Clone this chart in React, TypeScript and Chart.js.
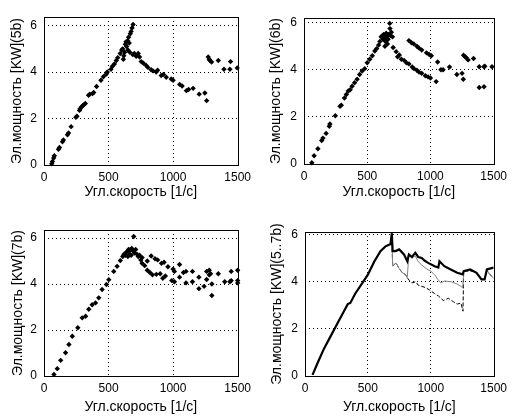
import React, { useEffect, useRef } from "react";
import { Chart, registerables } from "chart.js";

Chart.register(...registerables);

// ---------- text ----------
const xTitle = "Угл.скорость [1/с]";
const yTitle5 = "Эл.мощность [KW](5b)";
const yTitle6 = "Эл.мощность [KW](6b)";
const yTitle7 = "Эл.мощность [KW](7b)";
const yTitleAll = "Эл.мощность [KW](5..7b)";

// ---------- ticks ----------
const xTickValues = [0, 500, 1000, 1500];
const yTickValues = [0, 2, 4, 6];

// ---------- panel 1 : 5b ----------
const s5X = [
  60, 65, 75, 80, 112, 120, 143, 150, 182, 190, 210, 247, 255, 275, 280, 290, 300, 310, 320, 345, 355, 376, 385,
  407, 441, 460, 480, 490, 519, 530, 545, 560, 571, 590, 602, 610,
  615, 618, 625, 630, 635, 640, 648, 655, 660, 668, 675, 682, 690,
  650, 665, 688, 700, 714, 730,
  740, 753, 770, 792, 805, 830, 845, 869, 880, 908, 925, 947, 986, 1000, 1051, 1070, 1103, 1120, 1155, 1202, 1246, 1260,
  1272, 1280, 1285, 1298, 1350, 1394, 1440, 1445, 1497,
];
const s5Y = [
  0.05, 0.15, 0.3, 0.4, 0.68, 0.75, 1.0, 1.08, 1.3, 1.38, 1.65, 2.05, 2.1, 2.35, 2.42, 2.5, 2.55, 2.6, 2.65, 3.0, 3.05, 3.07, 3.12,
  3.38, 3.65, 3.8, 3.9, 4.0, 4.12, 4.25, 4.35, 4.5, 4.62, 4.8, 4.95, 5.0,
  4.55, 4.7, 4.85, 5.2, 5.3, 5.1, 5.35, 5.5, 5.25, 5.65, 5.75, 5.9, 6.05,
  4.95, 4.85, 4.75, 4.8, 4.68, 4.8,
  4.65, 4.45, 4.38, 4.28, 4.2, 4.1, 4.05, 4.0, 4.08, 3.85, 3.9, 3.78, 3.7, 3.65, 3.47, 3.4, 3.2, 3.25, 3.3, 3.05, 3.1, 2.77,
  4.65, 4.55, 4.5, 4.43, 4.5, 4.12, 4.12, 4.45, 4.18,
];

// ---------- panel 2 : 6b ----------
const s6X = [
  62, 80, 110, 140, 150, 175, 200, 205, 248, 285, 295, 320, 335, 350, 365, 380, 400, 420, 440, 460, 480, 500, 520, 540, 560, 575, 590, 600,
  610, 620, 625, 630, 640, 645, 650, 655, 660, 665, 670, 678, 680, 685, 691, 700, 640, 660,
  705, 729, 740, 754, 770, 792, 810, 830, 856, 870, 893, 910, 931, 960, 981, 1000, 1045,
  830, 850, 868, 893, 910, 931, 969, 990, 1007, 1057, 1083, 1100, 1151, 1209, 1250, 1260,
  1262, 1275, 1285, 1298, 1341, 1386, 1424, 1430, 1487, 1386, 1424,
];
const s6Y = [
  0.05, 0.35, 0.65, 1.0, 1.1, 1.3, 1.6, 1.7, 2.05, 2.45, 2.5, 2.8, 2.95, 3.1, 3.15, 3.3, 3.45, 3.6, 3.8, 3.95, 4.05, 4.3, 4.45, 4.6, 4.8, 4.9, 5.05, 5.2,
  5.4, 5.45, 5.3, 5.5, 5.4, 5.2, 5.55, 5.35, 5.45, 5.3, 5.5, 5.97, 5.75, 5.45, 5.6, 5.4, 5.0, 5.1,
  4.95, 4.77, 4.55, 4.63, 4.45, 4.4, 4.3, 4.25, 4.12, 4.05, 3.98, 3.9, 3.85, 3.75, 3.7, 3.65, 3.5,
  5.24, 5.15, 5.1, 5.0, 4.92, 4.84, 4.72, 4.65, 4.6, 4.33, 4.0, 4.0, 4.12, 3.8, 3.85, 3.6,
  4.62, 4.55, 4.5, 4.42, 4.48, 4.13, 4.13, 4.15, 4.13, 3.25, 3.28,
];

// ---------- panel 3 : 7b ----------
const s7X = [
  77, 103, 129, 167, 193, 219, 262, 296, 322, 347, 373, 399, 424, 450, 484, 502, 540, 566, 591,
  610, 620, 630, 640, 650, 655, 660, 665, 670, 675, 680, 690, 695, 700, 710, 720, 730, 740, 750,
  760, 800, 830, 860, 880, 910, 930, 960, 1000, 1010, 1050, 1080, 1100, 1150, 1200, 1260, 1280, 1290, 1350, 1450, 1500,
  760, 780, 800, 820, 840, 870, 900, 920, 940, 990, 1010, 1050, 1100, 1150, 1200, 1240, 1260, 1280, 1300, 1300, 1400, 1440, 1450, 1500, 1500,
];
const s7Y = [
  0.07, 0.32, 0.68, 1.01, 1.37, 1.73, 2.1, 2.53, 2.6, 2.9, 3.1, 3.18, 3.4, 3.76, 3.98, 4.19, 4.55, 4.77, 5.02,
  5.2, 5.3, 5.25, 5.4, 5.2, 5.5, 5.3, 5.45, 5.5, 5.25, 5.55, 5.45, 6.07, 5.35, 5.5, 5.3, 5.2, 5.25, 5.05,
  5.15, 5.0, 5.22, 5.1, 5.05, 4.9, 4.95, 4.75, 4.65, 4.55, 4.85, 4.5, 4.55, 4.55, 4.3, 4.55, 4.6, 4.45, 4.45, 4.55, 4.6,
  4.9, 4.8, 4.6, 4.5, 4.4, 4.42, 4.45, 4.25, 4.35, 4.15, 4.1, 4.3, 4.05, 4.1, 3.8, 3.9, 4.2, 4.4, 4.0, 3.5, 4.1, 4.1, 4.15, 4.05, 4.15,
];

// ---------- panel 4 : lines 5..7b ----------
const l7X = [
  60, 100, 150, 200, 250, 300, 340, 360, 400, 450, 500, 550, 600, 640, 660, 680, 690,
  697, 720, 749, 787, 813, 826, 850, 877, 900, 928, 950, 979, 1031, 1060, 1069, 1108, 1159, 1210, 1254, 1262,
  1313, 1364, 1403, 1428, 1446, 1492, 1500,
];
const l7Y = [
  0.05, 0.55, 1.15, 1.65, 2.15, 2.65, 3.05, 3.1, 3.5, 3.9, 4.3, 4.85, 5.3, 5.5, 5.55, 5.6, 6.05,
  5.3, 5.3, 5.37, 5.16, 4.87, 5.16, 5.05, 5.23, 5.05, 5.01, 4.9, 4.8, 4.66, 4.6, 4.87, 4.66, 4.52, 4.38, 4.31, 4.45,
  4.52, 4.38, 4.1, 4.1, 4.52, 4.59, 4.6,
];
const l6X = [
  60, 100, 150, 200, 250, 300, 340, 360, 400, 450, 500, 550, 600, 640, 660, 680, 690,
  697, 723, 750, 774, 800, 813, 826, 850, 877, 900, 930, 979, 1000, 1030, 1056, 1080, 1108, 1160, 1210, 1254, 1262,
  1313, 1364, 1403, 1428, 1446, 1470, 1500,
];
const l6Y = [
  0.05, 0.55, 1.15, 1.65, 2.15, 2.65, 3.05, 3.1, 3.5, 3.9, 4.3, 4.85, 5.3, 5.5, 5.55, 5.6, 6.05,
  4.66, 4.8, 4.55, 4.38, 4.3, 4.17, 5.16, 5.0, 5.1, 4.85, 4.7, 4.5, 4.45, 4.3, 4.1, 3.95, 4.03, 4.0, 3.9, 3.75, 4.45,
  4.5, 4.38, 4.1, 4.1, 4.5, 4.3, 4.15,
];
const l5X = [
  60, 100, 150, 200, 250, 300, 340, 360, 400, 450, 500, 550, 600, 640, 660, 680, 690,
  697, 723, 750, 774, 800, 813, 830, 850, 880, 900, 930, 960, 990, 1030, 1060, 1100, 1140, 1180, 1210, 1240, 1256, 1262,
  1300, 1350, 1403, 1428, 1446, 1500,
];
const l5Y = [
  0.05, 0.55, 1.15, 1.65, 2.15, 2.65, 3.05, 3.1, 3.5, 3.9, 4.3, 4.85, 5.3, 5.5, 5.55, 5.6, 6.05,
  4.66, 4.8, 4.55, 4.38, 4.3, 4.17, 4.05, 3.95, 4.0, 3.85, 3.8, 3.75, 3.65, 3.5, 3.4, 3.2, 3.3, 3.15, 3.05, 3.1, 2.75, 4.45,
  4.45, 4.45, 4.1, 4.1, 4.45, 4.15,
];

// ---------- layout ----------
const CW = 256;
const CH = 208;
const TICK_FONT = { family: "'Liberation Sans Narrow', 'Liberation Sans', Arial, sans-serif", size: 12 };
const TITLE_FONT = { family: "'Liberation Sans', Arial, sans-serif", size: 14, lineHeight: 1.2 };

type Area = { left: number; right: number; top: number; bottom: number; yMax: number; yPad: number; xPad: number };

const boxPlugin = {
  id: "matlabBox",
  beforeDatasetsDraw(chart: any) {
    const { ctx, chartArea } = chart;
    const l = Math.round(chartArea.left);
    const t = Math.round(chartArea.top);
    const r = Math.round(chartArea.right);
    const b = Math.round(chartArea.bottom);
    ctx.save();
    ctx.strokeStyle = "#000";
    ctx.lineWidth = 1;
    ctx.strokeRect(l + 0.5, t + 0.5, r - l, b - t);
    ctx.restore();
  },
};

function makeOptions(a: Area, yTitle: string) {
  return {
    responsive: false,
    animation: false,
    devicePixelRatio: 1,
    layout: { padding: { left: 0, top: a.top, right: CW - a.right, bottom: 0 } },
    plugins: { legend: { display: false }, tooltip: { enabled: false } },
    scales: {
      x: {
        type: "linear",
        position: "bottom",
        min: 0,
        max: 1500,
        afterFit: (s: any) => {
          s.height = CH - a.bottom;
        },
        afterBuildTicks: (s: any) => {
          s.ticks = xTickValues.map((v) => ({ value: v }));
        },
        ticks: { callback: (v: any) => String(v), font: TICK_FONT, color: "#000", padding: 5, maxRotation: 0, autoSkip: false },
        grid: {
          drawTicks: false,
          lineWidth: 1,
          color: (c: any) => (c.tick && c.tick.value > 0 && c.tick.value < 1500 ? "#000" : "rgba(0,0,0,0)"),
        },
        border: { display: false, dash: [1, 3] },
        title: { display: true, text: xTitle, font: TITLE_FONT, color: "#000", padding: { top: 0, bottom: a.xPad } },
      },
      y: {
        type: "linear",
        position: "left",
        min: 0,
        max: a.yMax,
        afterFit: (s: any) => {
          s.width = a.left;
        },
        afterBuildTicks: (s: any) => {
          s.ticks = yTickValues.map((v) => ({ value: v }));
        },
        ticks: { callback: (v: any) => String(v), font: TICK_FONT, color: "#000", padding: 7, autoSkip: false },
        grid: {
          drawTicks: false,
          lineWidth: 1,
          color: (c: any) => (c.tick && c.tick.value > 0 && c.tick.value < a.yMax ? "#000" : "rgba(0,0,0,0)"),
        },
        border: { display: false, dash: [1, 3] },
        title: { display: true, text: yTitle, font: TITLE_FONT, color: "#000", padding: { top: a.yPad, bottom: 0 } },
      },
    },
  };
}

function pts(xs: number[], ys: number[]) {
  return xs.map((x, i) => ({ x, y: ys[i] }));
}

function scatterSet(xs: number[], ys: number[]) {
  return {
    data: pts(xs, ys),
    pointStyle: "rectRot",
    pointRadius: 2.7,
    pointBackgroundColor: "#000",
    pointBorderWidth: 0,
    showLine: false,
    clip: false,
  };
}

function lineSet(xs: number[], ys: number[], color: string, width: number, dash: number[]) {
  return {
    data: pts(xs, ys),
    showLine: true,
    pointRadius: 0,
    borderColor: color,
    borderWidth: width,
    borderDash: dash,
    fill: false,
    tension: 0,
  };
}

const panels = [
  {
    left: 0,
    top: 0,
    area: { left: 44, right: 238, top: 17, bottom: 165, yMax: 6.37, yPad: 9, xPad: 7.5 },
    title: yTitle5,
    datasets: () => [scatterSet(s5X, s5Y)],
  },
  {
    left: 256,
    top: 0,
    area: { left: 48, right: 245, top: 18, bottom: 164, yMax: 6.2, yPad: 11.6, xPad: 7.5 },
    title: yTitle6,
    datasets: () => [scatterSet(s6X, s6Y)],
  },
  {
    left: 0,
    top: 208,
    area: { left: 44, right: 238, top: 22, bottom: 168, yMax: 6.35, yPad: 9.6, xPad: 0 },
    title: yTitle7,
    datasets: () => [scatterSet(s7X, s7Y)],
  },
  {
    left: 256,
    top: 208,
    area: { left: 49, right: 244, top: 24, bottom: 168, yMax: 6.11, yPad: 12.6, xPad: 0 },
    title: yTitleAll,
    datasets: () => [
      lineSet(l7X, l7Y, "#000", 2.2, []),
      lineSet(l6X, l6Y, "#808080", 1, []),
      lineSet(l5X, l5Y, "#000", 1, [4, 2]),
    ],
  },
];

function Panel({ p }: { p: (typeof panels)[number] }) {
  const ref = useRef<HTMLCanvasElement | null>(null);
  useEffect(() => {
    if (!ref.current) return;
    const chart = new Chart(ref.current, {
      type: "scatter",
      data: { datasets: p.datasets() as any },
      options: makeOptions(p.area, p.title) as any,
      plugins: [boxPlugin],
    });
    return () => chart.destroy();
  }, []);
  return (
    <canvas
      ref={ref}
      width={CW}
      height={CH}
      style={{ position: "absolute", left: p.left, top: p.top, width: CW, height: CH }}
    />
  );
}

export default function App() {
  return (
    <div style={{ position: "fixed", left: 0, top: 0, width: 512, height: 416, background: "#fff", overflow: "hidden" }}>
      {panels.map((p, i) => (
        <Panel key={i} p={p} />
      ))}
    </div>
  );
}
